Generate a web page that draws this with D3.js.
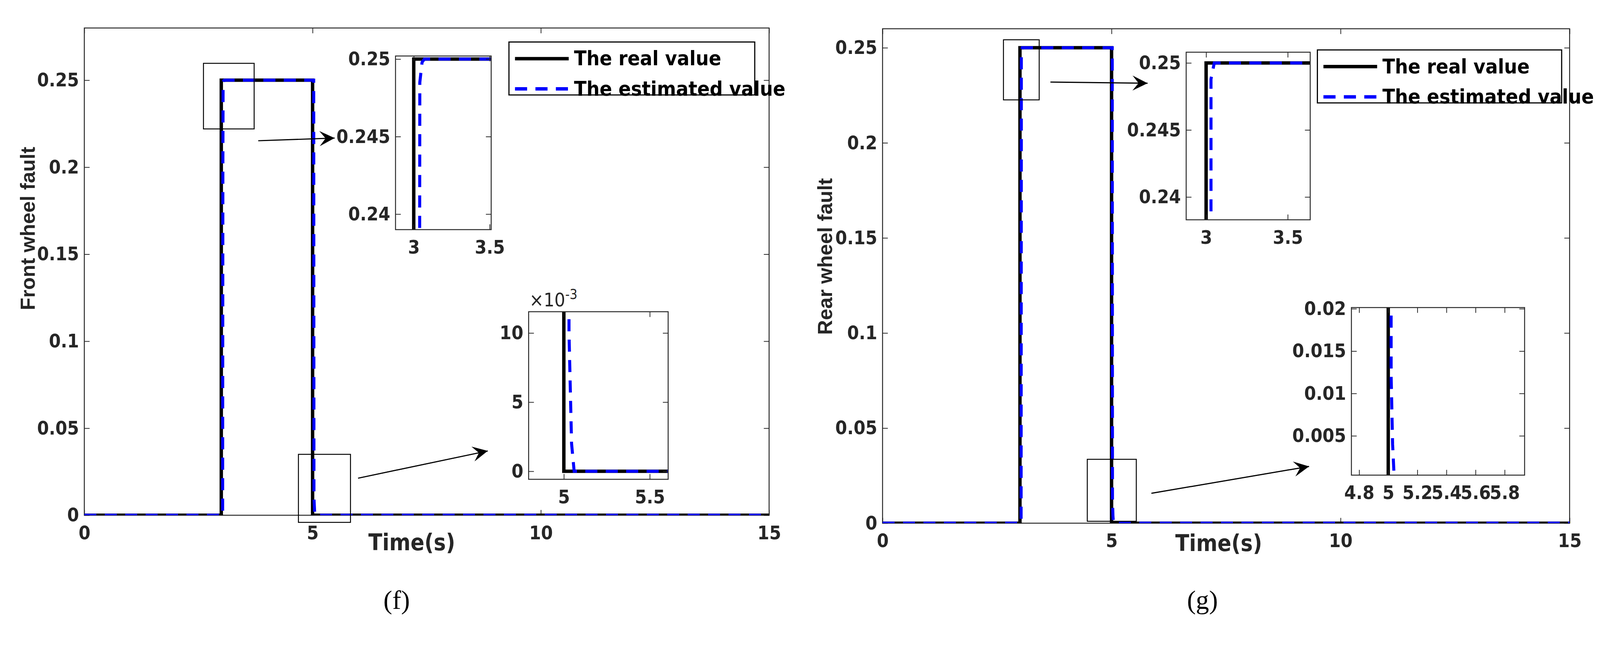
<!DOCTYPE html>
<html><head><meta charset="utf-8">
<script src="https://cdn.jsdelivr.net/npm/d3@7"></script>
<style>body{margin:0;background:#fff}</style>
</head><body>
<svg width="4222" height="1653"></svg>
<script>
var svg = d3.select("svg");
var root = svg.append("g").attr("transform", "scale(0.968)");

// data
var xTicks = [0, 5, 10, 15];
var realFront = [[0,0],[3,0],[3,0.25],[5,0.25],[5,0],[15,0]];
var estFront = [[0,0],[3.03,0],[3.035,0.2],[3.04,0.2485],[3.055,0.2498],[3.07,0.25],[5.025,0.25],[5.03,0.01],[5.045,0.002],[5.06,0],[15,0]];
var realRear = [[0,0],[3,0],[3,0.25],[5,0.25],[5,0],[15,0]];
var estRear = [[0,0],[3.025,0],[3.03,0.2],[3.03,0.2488],[3.05,0.25],[5.015,0.25],[5.02,0.012],[5.03,0.004],[5.04,0.0004],[5.05,0],[15,0]];
var frontYTicks = [0, 0.05, 0.1, 0.15, 0.2, 0.25];
var rearYTicks = [0, 0.05, 0.1, 0.15, 0.2, 0.25];
var legendLabels = ["The real value", "The estimated value"];

var tickFont = "'DejaVu Sans Condensed','Liberation Sans Narrow',sans-serif";
var textCol = "#262626";
var clipId = 0;

function axesBox(g, x, y, xt, yt, fmtX, fmtY, fs) {
  var r = x.range(), t = y.range();
  var ax = g.append("g");
  ax.append("g").attr("transform", "translate(0," + t[0] + ")")
    .call(d3.axisBottom(x).tickValues(xt).tickSize(-14).tickPadding(28).tickFormat(fmtX));
  ax.append("g").attr("transform", "translate(" + r[0] + ",0)")
    .call(d3.axisLeft(y).tickValues(yt).tickSize(-14).tickPadding(14).tickFormat(fmtY));
  ax.append("g").attr("transform", "translate(0," + t[1] + ")")
    .call(d3.axisTop(x).tickValues(xt).tickSize(-14).tickFormat(""));
  ax.append("g").attr("transform", "translate(" + r[1] + ",0)")
    .call(d3.axisRight(y).tickValues(yt).tickSize(-14).tickFormat(""));
  ax.selectAll(".domain").remove();
  ax.selectAll("line").attr("stroke", textCol).attr("stroke-width", 2);
  ax.selectAll("text").attr("font-family", tickFont).attr("font-weight", "bold")
    .attr("font-size", fs).attr("fill", textCol);
  g.append("rect").attr("x", r[0]).attr("y", t[1]).attr("width", r[1] - r[0])
    .attr("height", t[0] - t[1]).attr("fill", "none").attr("stroke", textCol).attr("stroke-width", 2.5);
}

function curves(g, x, y, real, est) {
  var r = x.range(), t = y.range();
  var id = "clip" + (clipId++);
  g.append("clipPath").attr("id", id).append("rect")
    .attr("x", r[0]).attr("y", t[1]).attr("width", r[1] - r[0]).attr("height", t[0] - t[1]);
  var line = d3.line().x(function(d){return x(d[0]);}).y(function(d){return y(d[1]);});
  var c = g.append("g").attr("clip-path", "url(#" + id + ")");
  c.append("path").attr("d", line(real)).attr("fill", "none").attr("stroke", "#000").attr("stroke-width", 9);
  c.append("path").attr("d", line(est)).attr("fill", "none").attr("stroke", "#0000ff")
    .attr("stroke-width", 8).attr("stroke-dasharray", "32,22");
}

function arrow(g, x1, y1, x2, y2) {
  g.append("line").attr("x1", x1).attr("y1", y1).attr("x2", x2).attr("y2", y2)
    .attr("stroke", "#000").attr("stroke-width", 3).attr("marker-end", "url(#arr)");
}

svg.append("defs").append("marker").attr("id", "arr").attr("viewBox", "0 0 10 10")
  .attr("refX", 10).attr("refY", 5).attr("markerWidth", 50).attr("markerHeight", 40)
  .attr("markerUnits", "userSpaceOnUse").attr("orient", "auto")
  .append("path").attr("d", "M0,0 L10,5 L0,10 L4,5 Z").attr("fill", "#000");

function panel(p) {
  var g = root.append("g");
  var x = d3.scaleLinear().domain([0, 15]).range(p.xr);
  var y = d3.scaleLinear().domain([0, p.ymax]).range(p.yr);
  axesBox(g, x, y, xTicks, p.yTicks, d3.format(""), function(d){return d === 0 ? "0" : String(d);}, 50);
  curves(g, x, y, p.real, p.est);

  // zoom rectangles
  p.boxes.forEach(function(b) {
    g.append("rect").attr("x", x(b[0])).attr("y", y(b[3])).attr("width", x(b[1]) - x(b[0]))
      .attr("height", y(b[2]) - y(b[3])).attr("fill", "none").attr("stroke", "#000").attr("stroke-width", 2.5);
  });
  p.arrows.forEach(function(a) { arrow(g, a[0], a[1], a[2], a[3]); });

  // insets
  p.insets.forEach(function(s) {
    var ix = d3.scaleLinear().domain(s.xd).range(s.xr);
    var iy = d3.scaleLinear().domain(s.yd).range(s.yr);
    g.append("rect").attr("x", s.xr[0]).attr("y", s.yr[1]).attr("width", s.xr[1] - s.xr[0])
      .attr("height", s.yr[0] - s.yr[1]).attr("fill", "#fff");
    curves(g, ix, iy, p.real, p.est);
    axesBox(g, ix, iy, s.xt, s.yt, function(d){return String(d);}, s.fy, 50);
    if (s.exp) {
      var e = g.append("text").attr("x", s.xr[0] + 2).attr("y", s.yr[1] - 14)
        .attr("font-family", tickFont).attr("font-size", 50).attr("fill", textCol);
      e.append("tspan").text("\u00d710");
      e.append("tspan").attr("dy", -20).attr("font-size", 36).text("-3");
    }
  });

  // legend
  var L = p.legend;
  g.append("rect").attr("x", L[0]).attr("y", L[1]).attr("width", L[2]).attr("height", L[3])
    .attr("fill", "#fff").attr("stroke", "#000").attr("stroke-width", 3);
  legendLabels.forEach(function(lab, i) {
    var yy = L[1] + 44 + i * 80;
    var ln = g.append("line").attr("x1", L[0] + 16).attr("x2", L[0] + 158).attr("y1", yy).attr("y2", yy)
      .attr("stroke-width", 9);
    if (i === 0) ln.attr("stroke", "#000");
    else ln.attr("stroke", "#0000ff").attr("stroke-dasharray", "32,22");
    g.append("text").attr("x", L[0] + 172).attr("y", yy + 18).text(lab)
      .attr("font-family", tickFont).attr("font-weight", "bold").attr("font-size", 54).attr("fill", "#000");
  });

  g.append("text").attr("x", p.xl[0]).attr("y", p.xl[1]).attr("text-anchor", "middle").text("Time(s)")
    .attr("font-family", tickFont).attr("font-weight", "bold").attr("font-size", 60).attr("fill", textCol);
  g.append("text").attr("transform", "translate(" + p.yl[0] + "," + p.yl[1] + ") rotate(-90)")
    .attr("text-anchor", "middle").text(p.ylabel)
    .attr("font-family", "'Liberation Sans',Arial,sans-serif").attr("font-weight", "bold")
    .attr("font-size", 54).attr("fill", textCol);
  g.append("text").attr("x", p.sub[0]).attr("y", p.sub[1]).attr("text-anchor", "middle").text(p.subLabel)
    .attr("font-family", "'Liberation Serif','Times New Roman',serif").attr("font-size", 70).attr("fill", "#000");
}

panel({
  xr: [223, 2034], yr: [1362, 74], ymax: 0.28, yTicks: frontYTicks,
  real: realFront, est: estFront,
  boxes: [[2.61, 3.72, 0.222, 0.2597], [4.69, 5.83, -0.0041, 0.035]],
  arrows: [[683, 372, 885, 365], [947, 1264, 1290, 1192]],
  insets: [
    {xd: [2.88, 3.51], xr: [1046, 1299], yd: [0.239, 0.2502], yr: [607, 148],
     xt: [3, 3.5], yt: [0.24, 0.245, 0.25], fy: function(d){return String(d);}},
    {xd: [4.795, 5.607], xr: [1398, 1767], yd: [-0.00058, 0.01154], yr: [1267, 824],
     xt: [5, 5.5], yt: [0, 0.005, 0.01], fy: function(d){return String(Math.round(d * 1000));}, exp: true}
  ],
  legend: [1346, 111, 650, 140],
  xl: [1089, 1455], yl: [92, 604], ylabel: "Front wheel fault",
  sub: [1049, 1610], subLabel: "(f)"
});

panel({
  xr: [2334, 4151], yr: [1383, 76], ymax: 0.26, yTicks: rearYTicks,
  real: realRear, est: estRear,
  boxes: [[2.64, 3.42, 0.2226, 0.2542], [4.47, 5.54, 0.001, 0.0336]],
  arrows: [[2778, 217, 3035, 220], [3045, 1304, 3462, 1233]],
  insets: [
    {xd: [2.878, 3.6375], xr: [3137, 3465], yd: [0.2383, 0.2508], yr: [581, 138],
     xt: [3, 3.5], yt: [0.24, 0.245, 0.25], fy: function(d){return String(d);}},
    {xd: [4.747, 5.937], xr: [3574, 4032], yd: [0.00036, 0.02014], yr: [1256, 813],
     xt: [4.8, 5, 5.2, 5.4, 5.6, 5.8], yt: [0.005, 0.01, 0.015, 0.02], fy: function(d){return String(+d.toFixed(3));}}
  ],
  legend: [3484, 132, 646, 140],
  xl: [3223, 1457], yl: [2200, 678], ylabel: "Rear wheel fault",
  sub: [3180, 1610], subLabel: "(g)"
});
</script>
</body></html>
